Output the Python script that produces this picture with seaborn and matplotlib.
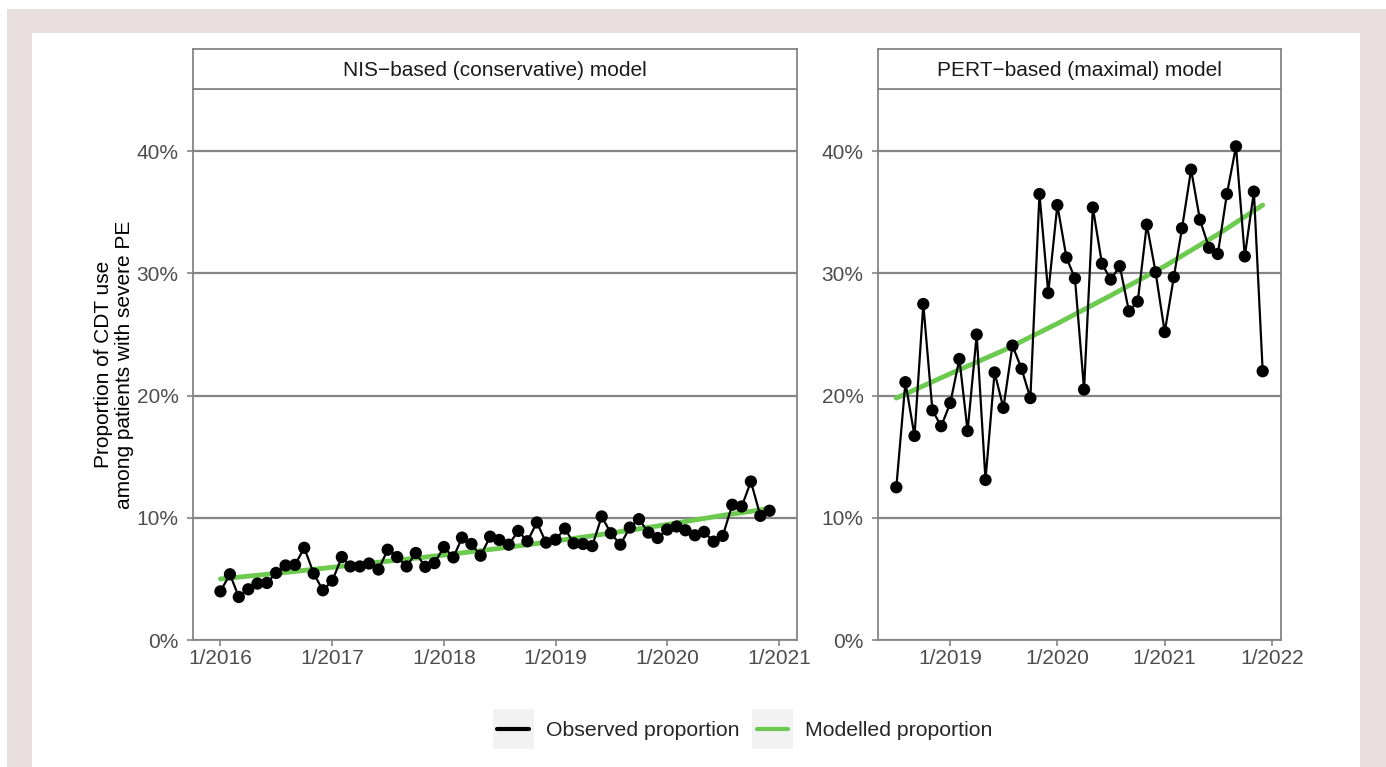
import numpy as np
import pandas as pd
import matplotlib
matplotlib.use("Agg")
import matplotlib.pyplot as plt
import matplotlib.dates as mdates
import seaborn as sns
from matplotlib.patches import Rectangle
from matplotlib.lines import Line2D
from matplotlib.legend_handler import HandlerLine2D
from matplotlib.ticker import FuncFormatter

# observed monthly proportions (%), NIS: 1/2016 - 12/2020
nis_dates = pd.date_range("2016-01-01", periods=60, freq="MS")
nis_observed = [3.98, 5.38, 3.52, 4.15, 4.62, 4.67, 5.49, 6.10, 6.15, 7.55,
                5.44, 4.07, 4.86, 6.79, 6.02, 6.02, 6.26, 5.77, 7.39, 6.79,
                6.02, 7.12, 5.99, 6.29, 7.61, 6.76, 8.38, 7.86, 6.90, 8.46,
                8.19, 7.80, 8.93, 8.08, 9.62, 7.97, 8.21, 9.12, 7.91, 7.86,
                7.69, 10.11, 8.74, 7.80, 9.20, 9.89, 8.79, 8.35, 9.04, 9.29,
                8.98, 8.57, 8.85, 8.05, 8.52, 11.07, 10.93, 12.97, 10.16, 10.58]
# modelled proportion read at half-year points
nis_model_dates = pd.to_datetime(["2016-01-01", "2016-07-01", "2017-01-01", "2017-07-01",
                                  "2018-01-01", "2018-07-01", "2019-01-01", "2019-07-01",
                                  "2020-01-01", "2020-07-01", "2020-12-01"])
nis_modelled = [5.0, 5.45, 5.95, 6.45, 6.95, 7.5, 8.1, 8.75, 9.45, 10.2, 10.75]

# PERT: 7/2018 - 12/2021
pert_dates = pd.date_range("2018-07-01", periods=42, freq="MS")
pert_observed = [12.5, 21.1, 16.7, 27.5, 18.8, 17.5, 19.4, 23.0, 17.1, 25.0,
                 13.1, 21.9, 19.0, 24.1, 22.2, 19.8, 36.5, 28.4, 35.6, 31.3,
                 29.6, 20.5, 35.4, 30.8, 29.5, 30.6, 26.9, 27.7, 34.0, 30.1,
                 25.2, 29.7, 33.7, 38.5, 34.4, 32.1, 31.6, 36.5, 40.4, 31.4,
                 36.7, 22.0]
pert_model_dates = pd.to_datetime(["2018-07-01", "2019-01-01", "2019-07-01", "2020-01-01",
                                   "2020-07-01", "2021-01-01", "2021-07-01", "2021-12-01"])
pert_modelled = [19.8, 21.8, 23.7, 25.9, 28.2, 30.6, 33.2, 35.6]

panel_titles = ["NIS\u2212based (conservative) model", "PERT\u2212based (maximal) model"]
legend_labels = ["Observed proportion", "Modelled proportion"]

sns.set_style("white")
plt.rcParams["font.family"] = ["Liberation Sans", "DejaVu Sans"]

GREEN = "#6CCB4F"
GRAY = "#858585"
TXT = "#4D4D4D"
PINK = "#E9DFDF"
W, H = 1386, 767


def box(x0, y0, x1, y1):
    return [x0 / W, 1 - y1 / H, (x1 - x0) / W, (y1 - y0) / H]


fig = plt.figure(figsize=(W / 100, H / 100), dpi=100)
fig.add_artist(Rectangle((7 / W, 0), (W - 7) / W, 1 - 9 / H, transform=fig.transFigure,
                         facecolor=PINK, edgecolor="none", zorder=-10))
fig.add_artist(Rectangle((32 / W, 0), (1360 - 32) / W, 1 - 33 / H, transform=fig.transFigure,
                         facecolor="white", edgecolor="none", zorder=-9))

panels = [
    (box(193, 89, 797, 640), box(193, 49, 797, 89),
     nis_dates, nis_observed, nis_model_dates, nis_modelled, panel_titles[0]),
    (box(878, 89, 1281, 640), box(878, 49, 1281, 89),
     pert_dates, pert_observed, pert_model_dates, pert_modelled, panel_titles[1]),
]

axes = []
for pos, spos, d, obs, md, mod, title in panels:
    ax = fig.add_axes(pos)
    obs = np.array(obs) / 100
    mod = np.array(mod) / 100
    sns.lineplot(x=md, y=mod, color=GREEN, lw=3.5, ax=ax, zorder=2)
    sns.lineplot(x=d, y=obs, color="black", lw=1.6, ax=ax, zorder=3)
    sns.scatterplot(x=d, y=obs, color="black", s=78, edgecolor="none", ax=ax, zorder=4)

    # 5% expansion of the date range, as ggplot does
    lo, hi = mdates.date2num(d[0]), mdates.date2num(d[-1])
    ax.set_xlim(lo - 0.05 * (hi - lo), hi + 0.05 * (hi - lo))
    ax.set_ylim(0, 0.451)
    ax.set_yticks([0, 0.1, 0.2, 0.3, 0.4])
    ax.yaxis.set_major_formatter(FuncFormatter(lambda v, p: f"{v * 100:.0f}%"))
    ax.xaxis.set_major_locator(mdates.YearLocator())
    ax.xaxis.set_major_formatter(FuncFormatter(
        lambda v, p: f"{mdates.num2date(v).month}/{mdates.num2date(v).year}"))
    ax.set_xlabel("")
    ax.set_ylabel("")
    ax.yaxis.grid(True, color=GRAY, lw=1.6)
    ax.xaxis.grid(False)
    ax.set_axisbelow(True)
    for s in ax.spines.values():
        s.set_color(GRAY)
        s.set_linewidth(1.3)
    ax.tick_params(axis="both", colors=GRAY, labelcolor=TXT, labelsize=15,
                   length=4.5, width=1.2, direction="out", bottom=True, left=True)
    ax.tick_params(axis="x", pad=2)
    ax.tick_params(axis="y", pad=6)

    st = fig.add_axes(spos)
    st.set_xticks([])
    st.set_yticks([])
    for s in st.spines.values():
        s.set_color(GRAY)
        s.set_linewidth(1.3)
    st.text(0.5, 0.47, title, ha="center", va="center", fontsize=15, color="#1A1A1A",
            transform=st.transAxes)
    axes.append(ax)

axes[0].set_ylabel("Proportion of CDT use\namong patients with severe PE",
                   fontsize=15, color="black", labelpad=2, linespacing=1.12)


class KeyHandler(HandlerLine2D):
    # light grey square behind each legend key, as in ggplot
    def create_artists(self, legend, orig_handle, xdescent, ydescent, width, height,
                       fontsize, trans):
        pad = 3.2
        side = 29
        bg = Rectangle((-xdescent - pad, -ydescent + height / 2 - side / 2), width + 2 * pad, side,
                       facecolor="#F2F2F2", edgecolor="none", transform=trans)
        arts = super().create_artists(legend, orig_handle, xdescent, ydescent, width,
                                      height, fontsize, trans)
        return [bg] + arts


handles = [Line2D([], [], color="black", lw=3.0), Line2D([], [], color=GREEN, lw=3.0)]
fig.legend(handles, legend_labels, loc="center", bbox_to_anchor=(745 / W, 1 - 731 / H),
           ncol=2, frameon=False, fontsize=15.3, handlelength=1.5, handletextpad=0.8,
           columnspacing=0.8, handler_map={Line2D: KeyHandler()})

fig.savefig("out.png", dpi=100, facecolor="white")
